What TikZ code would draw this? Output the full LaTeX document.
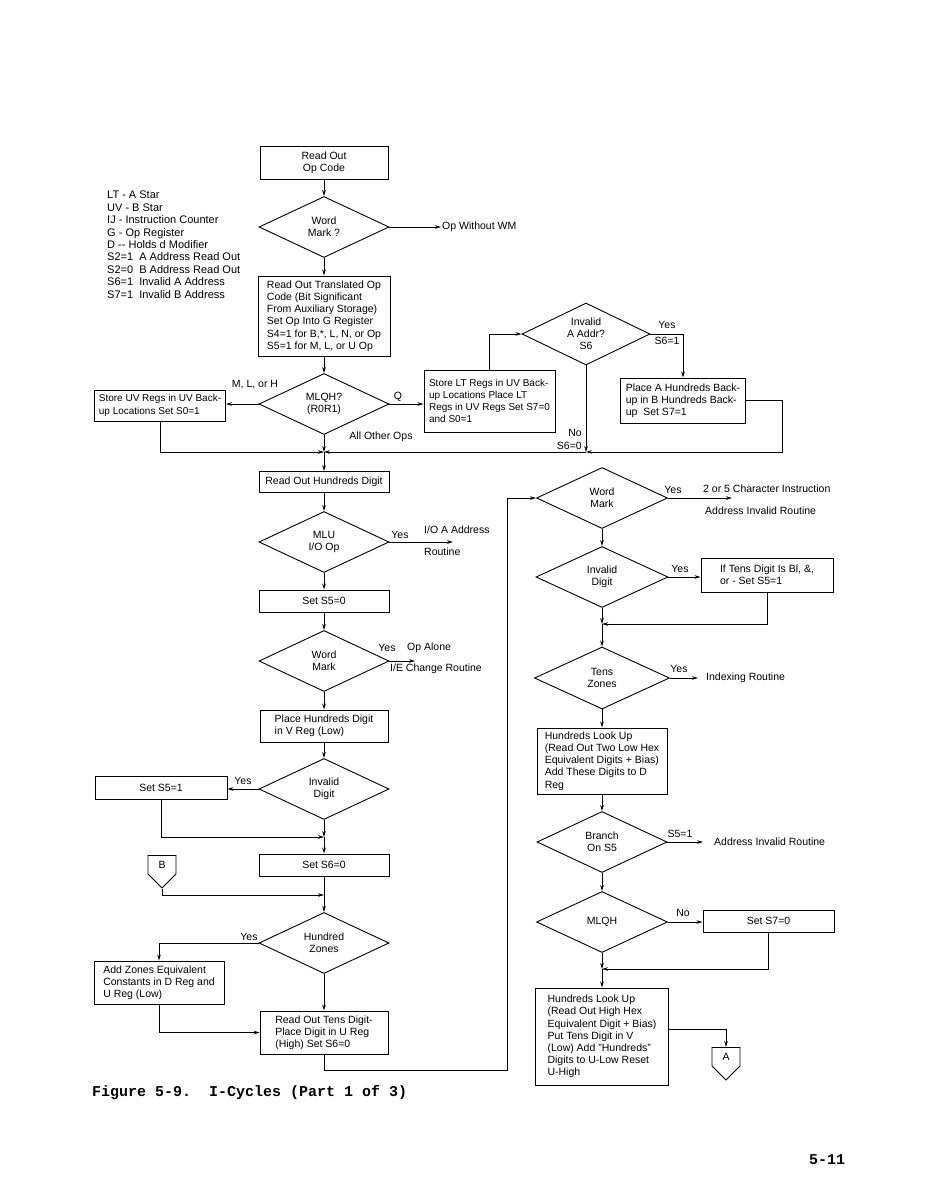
\documentclass[tikz,border=0pt]{standalone}
\usepackage{fontspec}
\setmainfont{Liberation Sans}
\setmonofont{Liberation Mono}
\usetikzlibrary{arrows.meta, shapes.geometric, shapes.symbols}

\begin{document}
\begin{tikzpicture}[
  x=1pt, y=-1pt,
  font=\fontsize{10.5}{12.2}\selectfont,
  box/.style={rectangle, draw, line width=0.9pt, align=left, inner sep=1.5pt},
  dia/.style={diamond, draw, line width=0.9pt, minimum width=130pt,
              minimum height=61pt, inner sep=0pt, aspect=2.1, align=center},
  conn/.style={signal, signal to=south, draw, line width=0.9pt,
               minimum width=28pt, minimum height=22pt, inner sep=0pt},
  flow/.style={draw, line width=0.9pt},
  arr/.style={flow, -{Stealth[length=6pt, width=3.6pt]}},
  lab/.style={inner sep=1pt},
  tight/.style={font=\fontsize{10}{12.2}\selectfont, inner sep=3pt},
]
\useasboundingbox (0,0) rectangle (927,1194);

% legend
\node[lab, anchor=north west, align=left, font=\fontsize{11}{12.4}\selectfont]
  (legend) at (106,190) {LT - A Star\\UV - B Star\\IJ - Instruction Counter\\
  G - Op Register\\D {-}{-} Holds d Modifier\\S2=1\ \ A Address Read Out\\
  S2=0\ \ B Address Read Out\\S6=1\ \ Invalid A Address\\S7=1\ \ Invalid B Address};

% left column
\node[box, align=center, minimum width=128pt, minimum height=33pt] (rdop) at (324,163) {Read Out\\Op Code};
\node[dia] (wm) at (324,227) {Word\\Mark ?};
\node[lab, anchor=west] (opwm) at (441,227) {Op Without WM};
\node[box, minimum width=132pt, minimum height=80pt] (trans) at (324,316)
  {Read Out Translated Op\\Code (Bit Significant\\From Auxiliary Storage)\\
   Set Op Into G Register\\S4=1 for B,*, L, N, or Op\\S5=1 for M, L, or U Op};
\node[dia] (mlqh) at (324,404) {MLQH?\\(R0R1)};
\node[box, tight, minimum width=131pt, minimum height=31pt] (stuv) at (160,405.5)
  {Store UV Regs in UV Back-\\up Locations Set S0=1};
\node[box, tight, minimum width=131pt, minimum height=62pt] (stlt) at (489.5,401)
  {Store LT Regs in UV Back-\\up Locations Place LT\\Regs in UV Regs Set S7=0\\and S0=1};
\node[dia, minimum width=128pt, minimum height=62pt] (inva) at (586,334) {Invalid\\A Addr?\\S6};
\node[box, minimum width=125pt, minimum height=45pt] (placea) at (683,400.5)
  {Place A Hundreds Back-\\up in B Hundreds Back-\\up\ \ Set S7=1};
\coordinate (ja) at (586,452);
\coordinate (jm) at (324,452);

\node[box, align=center, minimum width=130pt, minimum height=21pt] (rdhd) at (324,482) {Read Out Hundreds Digit};
\node[dia] (mlu) at (324,542) {MLU\\I/O Op};
\coordinate (ioend) at (453,542);
\node[lab, anchor=west] (ioa) at (423,530) {I/O A Address};
\node[lab, anchor=west] (ior) at (423,552) {Routine};
\node[box, align=center, minimum width=130pt, minimum height=22pt] (sfive0) at (324,601) {Set S5=0};
\node[dia] (wmb) at (324,661) {Word\\Mark};
\coordinate (opend) at (415,661);
\node[lab, anchor=west] (opal) at (406,648) {Op Alone};
\node[lab, anchor=west] (iech) at (389,669) {I/E Change Routine};
\node[box, minimum width=128pt, minimum height=32pt] (placed) at (324,726) {Place Hundreds Digit\\in V Reg (Low)};
\node[dia] (invd) at (324,789) {Invalid\\Digit};
\node[box, align=center, minimum width=132pt, minimum height=23pt] (sfive1) at (161,788) {Set S5=1};
\coordinate (jb) at (324,837);
\node[box, align=center, minimum width=130pt, minimum height=22pt] (ssix0) at (324,865) {Set S6=0};
\node[conn, anchor=north] (conb) at (162,855) {B};
\coordinate (jc) at (324,895);
\node[dia] (hz) at (324,943) {Hundred\\Zones};
\node[box, minimum width=130pt, minimum height=43pt] (addz) at (159,982.5)
  {Add Zones Equivalent\\Constants in D Reg and\\U Reg (Low)};
\node[box, minimum width=128pt, minimum height=43pt] (rdtens) at (324,1032.5)
  {Read Out Tens Digit-\\Place Digit in U Reg\\(High) Set S6=0};
\coordinate (jd) at (507,1070);

% right column
\node[dia, minimum width=131pt] (wmc) at (602,498) {Word\\Mark};
\coordinate (wmend) at (732,498);
\node[lab, anchor=west] (twofive) at (702,489) {2 or 5 Character Instruction};
\node[lab, anchor=west] (addinv) at (704,511) {Address Invalid Routine};
\node[dia, minimum width=132pt] (invdb) at (602,577) {Invalid\\Digit};
\node[box, minimum width=132pt, minimum height=34pt] (iftens) at (767,575)
  {If Tens Digit Is Bl, \&,\\or - Set S5=1};
\coordinate (je) at (602,624);
\node[dia, minimum width=135pt, minimum height=62pt] (tz) at (602,678) {Tens\\Zones};
\coordinate (tzend) at (698,678);
\node[lab, anchor=west] (index) at (705,678) {Indexing Routine};
\node[box, minimum width=130pt, minimum height=66pt] (hlua) at (602,761)
  {Hundreds Look Up\\(Read Out Two Low Hex\\Equivalent Digits + Bias)\\Add These Digits to D\\Reg};
\node[dia] (brs5) at (602,842) {Branch\\On S5};
\coordinate (brend) at (703,842);
\node[lab, anchor=west] (addinvb) at (713,842) {Address Invalid Routine};
\node[dia, minimum width=131pt] (mlqhb) at (602,922) {MLQH};
\node[box, align=center, minimum width=131pt, minimum height=22pt] (sseven0) at (768.5,921) {Set S7=0};
\coordinate (jf) at (602,969);
\node[box, minimum width=133pt, minimum height=97pt] (hlub) at (602,1036.5)
  {Hundreds Look Up\\(Read Out High Hex\\Equivalent Digit + Bias)\\Put Tens Digit in V\\
   (Low) Add "Hundreds"\\Digits to U-Low Reset\\U-High};
\node[conn, anchor=north] (cona) at (726,1047) {A};

% branch labels
\node[lab] (lmlh) at (255,385) {M, L, or H};
\node[lab] (lq) at (398,397) {Q};
\node[lab] (lother) at (381,437) {All Other Ops};
\node[lab] (lyesa) at (667,325) {Yes};
\node[lab] (ls61) at (667,341) {S6=1};
\node[lab, anchor=east] (lno) at (583,433) {No};
\node[lab, anchor=east] (ls60) at (583,446) {S6=0};
\node[lab] (lyesb) at (400,535) {Yes};
\node[lab] (lyesc) at (387,648) {Yes};
\node[lab] (lyesd) at (243,781) {Yes};
\node[lab] (lyese) at (249,937) {Yes};
\node[lab] (lyesf) at (673,490) {Yes};
\node[lab] (lyesg) at (680,569) {Yes};
\node[lab] (lyesh) at (679,669) {Yes};
\node[lab] (ls51) at (680,834) {S5=1};
\node[lab] (lnob) at (683,913) {No};

% connectors, left column
\draw[arr] (rdop) -- (wm);
\draw[arr] (wm.east) -- (opwm.west);
\draw[arr] (wm) -- (trans);
\draw[arr] (trans) -- (mlqh);
\draw[arr] (mlqh.west) -- (mlqh.west -| stuv.east);
\draw[arr] (mlqh.east) -- (mlqh.east -| stlt.west);
\draw[arr] (stlt.north) |- (inva.west);
\draw[arr] (inva.east) -| (placea.north);
\draw[arr] (inva.south) -- (ja);
\draw[arr] (placea.east) -- ++(36,0) |- (ja);
\draw[arr] (ja) -- (jm);
\draw[arr] (stuv.south) |- (jm);
\draw[arr] (mlqh.south) -- (jm);
\draw[arr] (jm) -- (rdhd.north);
\draw[arr] (rdhd) -- (mlu);
\draw[arr] (mlu.east) -- (ioend);
\draw[arr] (mlu) -- (sfive0);
\draw[arr] (sfive0) -- (wmb);
\draw[arr] (wmb.east) -- (opend);
\draw[arr] (wmb) -- (placed);
\draw[arr] (placed) -- (invd);
\draw[arr] (invd.west) -- (invd.west -| sfive1.east);
\draw[arr] (sfive1.south) |- (jb);
\draw[arr] (invd.south) -- (jb);
\draw[arr] (jb) -- (ssix0.north);
\draw[arr] (conb.south) |- (jc);
\draw[arr] (ssix0) -- (hz);
\draw[arr] (hz.west) -| (addz.north);
\draw[arr] (addz.south) |- (rdtens.west);
\draw[arr] (hz) -- (rdtens);
\draw[arr] (rdtens.south) |- (jd) |- (wmc.west);

% connectors, right column
\draw[arr] (wmc.east) -- (wmend);
\draw[arr] (wmc) -- (invdb);
\draw[arr] (invdb.east) -- (invdb.east -| iftens.west);
\draw[arr] (iftens.south) |- (je);
\draw[arr] (invdb.south) -- (je);
\draw[arr] (je) -- (tz.north);
\draw[arr] (tz.east) -- (tzend);
\draw[arr] (tz) -- (hlua);
\draw[arr] (hlua) -- (brs5);
\draw[arr] (brs5.east) -- (brend);
\draw[arr] (brs5) -- (mlqhb);
\draw[arr] (mlqhb.east) -- (mlqhb.east -| sseven0.west);
\draw[arr] (sseven0.south) |- (jf);
\draw[arr] (mlqhb.south) -- (jf);
\draw[arr] (jf) -- (hlub.north);
\draw[arr] ([yshift=7pt]hlub.east) -| (cona.north);

% caption and page number
\node[lab, anchor=west, font=\ttfamily\bfseries\fontsize{15}{15}\selectfont]
  (caption) at (91,1093) {Figure 5-9.~~I-Cycles (Part 1 of 3)};
\node[lab, font=\ttfamily\bfseries\fontsize{15}{15}\selectfont] (pageno) at (827,1160) {5-11};
\end{tikzpicture}
\end{document}
